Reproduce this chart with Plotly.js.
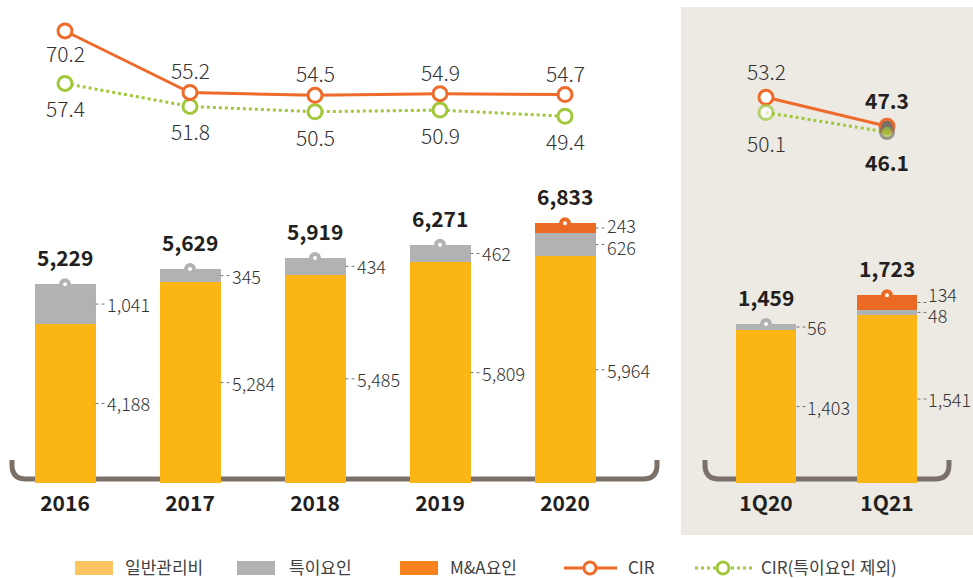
<!DOCTYPE html>
<html>
<head>
<meta charset="utf-8">
<script src="https://cdn.plot.ly/plotly-3.0.1.min.js"></script>
<style>html,body{margin:0;padding:0;background:#fff;}#chart{width:973px;height:578px;}</style>
</head>
<body>
<div id="chart"></div>
<script>
// ---- data ----
const yearCats = ['2016', '2017', '2018', '2019', '2020'];
const generalY = [4188, 5284, 5485, 5809, 5964];
const specialY = [1041, 345, 434, 462, 626];
const mnaY = [0, 0, 0, 0, 243];
const totalY = [5229, 5629, 5919, 6271, 6833];
const cirY = [70.2, 55.2, 54.5, 54.9, 54.7];
const cirExY = [57.4, 51.8, 50.5, 50.9, 49.4];

const quarterCats = ['1Q20', '1Q21'];
const generalQ = [1403, 1541];
const specialQ = [56, 48];
const mnaQ = [0, 134];
const totalQ = [1459, 1723];
const cirQ = [53.2, 47.3];
const cirExQ = [50.1, 46.1];

const legendNames = ['일반관리비', '특이요인', 'M&A요인', 'CIR', 'CIR(특이요인 제외)'];

// ---- styles ----
const W = 973, H = 578;
const px = x => x / W;
const py = y => 1 - y / H;
const FONT = '"Noto Sans CJK KR", "Noto Sans", sans-serif';
const C_YEL = '#FBB616', C_GRY = '#B1B2B4', C_ORG = '#EA6A24', C_LINE = '#EE6B2B', C_GRN = '#A0C83A';
const C_TXT = '#333333', C_DARK = '#231F20', C_BRK = '#7B7168';
const BOTTOM = 483;
const hwY = 0.244, hwQ = 0.252;

const fmt = v => v.toLocaleString('en-US');

const traces = [];
function bars(cats, vals, color, xa, ya, w) {
  return {type: 'bar', x: cats, y: vals, xaxis: xa, yaxis: ya, width: cats.map(() => w),
    marker: {color: color, line: {width: 0}}, hoverinfo: 'skip', showlegend: false};
}
traces.push(bars(yearCats, generalY, C_YEL, 'x', 'y', 2 * hwY));
traces.push(bars(yearCats, specialY, C_GRY, 'x', 'y', 2 * hwY));
traces.push(bars(yearCats, mnaY, C_ORG, 'x', 'y', 2 * hwY));
traces.push(bars(quarterCats, generalQ, C_YEL, 'x2', 'y3', 2 * hwQ));
traces.push(bars(quarterCats, specialQ, C_GRY, 'x2', 'y3', 2 * hwQ));
traces.push(bars(quarterCats, mnaQ, C_ORG, 'x2', 'y3', 2 * hwQ));

// bar top pins
function pins(cats, tots, mna, xa, ya) {
  return {type: 'scatter', mode: 'markers', x: cats, y: tots, xaxis: xa, yaxis: ya, cliponaxis: false,
    marker: {size: 8, color: '#ffffff', line: {width: 4, color: mna.map(m => m > 0 ? C_ORG : C_GRY)}},
    hoverinfo: 'skip', showlegend: false};
}
traces.push(pins(yearCats, totalY, mnaY, 'x', 'y'));
traces.push(pins(quarterCats, totalQ, mnaQ, 'x2', 'y3'));

// CIR lines
traces.push({type: 'scatter', mode: 'lines+markers', x: yearCats, y: cirExY, xaxis: 'x', yaxis: 'y2', cliponaxis: false,
  line: {color: C_GRN, width: 3, dash: 'dot'}, marker: {size: 14, color: '#fff', line: {width: 3, color: C_GRN}},
  hoverinfo: 'skip', showlegend: false});
traces.push({type: 'scatter', mode: 'lines+markers', x: yearCats, y: cirY, xaxis: 'x', yaxis: 'y2', cliponaxis: false,
  line: {color: C_LINE, width: 3}, marker: {size: 14, color: '#fff', line: {width: 3, color: C_LINE}},
  hoverinfo: 'skip', showlegend: false});
traces.push({type: 'scatter', mode: 'lines+markers', x: quarterCats, y: cirQ, xaxis: 'x2', yaxis: 'y4', cliponaxis: false,
  line: {color: C_LINE, width: 3}, marker: {size: 14, color: ['#fff', C_BRK], line: {width: 3, color: [C_LINE, C_LINE]}},
  hoverinfo: 'skip', showlegend: false});
traces.push({type: 'scatter', mode: 'lines+markers', x: quarterCats, y: cirExQ, xaxis: 'x2', yaxis: 'y4', cliponaxis: false,
  line: {color: C_GRN, width: 3, dash: 'dot'}, marker: {size: [14, 13], color: ['#fff', C_GRN], line: {width: 3, color: [C_GRN, C_BRK]}},
  hoverinfo: 'skip', showlegend: false});

// ---- annotations & shapes ----
const ann = [];
const shapes = [];

// beige panel
shapes.push({type: 'rect', xref: 'paper', yref: 'paper', x0: px(681), x1: px(973), y0: py(535), y1: py(7),
  fillcolor: '#EDEAE3', line: {width: 0}, layer: 'below'});

// brackets
function bracket(x0, x1) {
  const top = 460, base = 479, r = 14;
  const p = `M ${px(x0)} ${py(top)} L ${px(x0)} ${py(base - r)} Q ${px(x0)} ${py(base)} ${px(x0 + r)} ${py(base)} ` +
    `L ${px(x1 - r)} ${py(base)} Q ${px(x1)} ${py(base)} ${px(x1)} ${py(base - r)} L ${px(x1)} ${py(top)}`;
  shapes.push({type: 'path', xref: 'paper', yref: 'paper', path: p, line: {color: C_BRK, width: 5}, layer: 'below'});
}
bracket(12, 657);
bracket(705, 949);

// totals
function totalsAnn(cats, tots, xa, ya) {
  cats.forEach((c, i) => ann.push({x: i, y: tots[i], xref: xa, yref: ya, text: fmt(tots[i]), showarrow: false,
    yshift: 27, font: {family: FONT, size: 21, color: C_DARK, weight: 700}}));
}
totalsAnn(yearCats, totalY, 'x', 'y');
totalsAnn(quarterCats, totalQ, 'x2', 'y3');

// segment labels with dotted leaders
function segLabels(cats, series, xa, ya, hw, shifts) {
  cats.forEach((c, i) => {
    let base = 0;
    series.forEach((s, k) => {
      const v = s[i];
      if (v > 0) {
        const mid = base + v / 2;
        const sh = (shifts && shifts[k] && shifts[k][i]) || 0;
        ann.push({x: i + hw, y: mid, xref: xa, yref: ya, text: fmt(v), showarrow: false,
          xanchor: 'left', xshift: 9, yshift: sh, font: {family: FONT, size: 18, color: C_TXT, weight: 300}});
        shapes.push({type: 'line', xref: xa, yref: ya, xsizemode: 'pixel', xanchor: i + hw, x0: 0, x1: 11,
          y0: mid, y1: mid, line: {color: '#777', width: 1, dash: 'dot'}});
      }
      base += v;
    });
  });
}
segLabels(yearCats, [generalY, specialY, mnaY], 'x', 'y', hwY, [null, [0, 0, 0, 0, -3], [0, 0, 0, 0, 3]]);
segLabels(quarterCats, [generalQ, specialQ, mnaQ], 'x2', 'y3', hwQ, [null, [0, -3], [0, 9]]);

// CIR labels
function cirLabels(cats, vals, pos, xa, ya, bold, up, down) {
  cats.forEach((c, i) => ann.push({x: i, y: vals[i], xref: xa, yref: ya, text: vals[i].toFixed(1), showarrow: false,
    yshift: pos[i] === 'above' ? up : -down,
    font: {family: FONT, size: 21, color: bold[i] ? C_DARK : C_TXT, weight: bold[i] ? 700 : 300}}));
}
cirLabels(yearCats, cirY, ['below', 'above', 'above', 'above', 'above'], 'x', 'y2', [0, 0, 0, 0, 0], 22, 22);
cirLabels(yearCats, cirExY, ['below', 'below', 'below', 'below', 'below'], 'x', 'y2', [0, 0, 0, 0, 0], 22, 25);
cirLabels(quarterCats, cirQ, ['above', 'above'], 'x2', 'y4', [0, 1], 26, 26);
cirLabels(quarterCats, cirExQ, ['below', 'below'], 'x2', 'y4', [0, 1], 26, 30);

// custom legend
const LY = 568, LT = 566;
const legFont = {family: FONT, size: 17, color: '#404040'};
[[75, '#FEC561', 123], [237, C_GRY, 287], [400, '#F5821F', 448]].forEach((d, k) => {
  shapes.push({type: 'rect', xref: 'paper', yref: 'paper', x0: px(d[0]), x1: px(d[0] + 38), y0: py(LY + 7), y1: py(LY - 7),
    fillcolor: d[1], line: {width: 0}});
  ann.push({x: px(d[2]), y: py(LT), xref: 'paper', yref: 'paper', xanchor: 'left', yanchor: 'middle',
    text: legendNames[k], showarrow: false, font: legFont});
});
shapes.push({type: 'line', xref: 'paper', yref: 'paper', x0: px(564), x1: px(617), y0: py(LY), y1: py(LY), line: {color: C_LINE, width: 3}});
shapes.push({type: 'circle', xref: 'paper', yref: 'paper', x0: px(584), x1: px(596), y0: py(LY + 6), y1: py(LY - 6),
  fillcolor: '#fff', line: {color: C_LINE, width: 3}});
ann.push({x: px(626), y: py(LT), xref: 'paper', yref: 'paper', xanchor: 'left', yanchor: 'middle',
  text: legendNames[3], showarrow: false, font: legFont});
shapes.push({type: 'line', xref: 'paper', yref: 'paper', x0: px(695), x1: px(752), y0: py(LY), y1: py(LY), line: {color: C_GRN, width: 3, dash: 'dot'}});
shapes.push({type: 'circle', xref: 'paper', yref: 'paper', x0: px(717), x1: px(729), y0: py(LY + 6), y1: py(LY - 6),
  fillcolor: '#fff', line: {color: C_GRN, width: 3}});
ann.push({x: px(759), y: py(LT), xref: 'paper', yref: 'paper', xanchor: 'left', yanchor: 'middle',
  text: legendNames[4], showarrow: false, font: legFont});

const hidden = {showgrid: false, zeroline: false, showticklabels: false, showline: false, ticks: ''};
const yDom = [py(BOTTOM), 1];
const tickFont = {family: FONT, size: 21, color: C_DARK, weight: 700};
const layout = {
  width: W, height: H, margin: {l: 0, r: 0, t: 0, b: 0},
  paper_bgcolor: '#ffffff', plot_bgcolor: 'rgba(0,0,0,0)',
  barmode: 'stack', showlegend: false,
  xaxis: {domain: [px(2.5), px(627.5)], type: 'category', range: [-0.5, 4.5], anchor: 'y', showgrid: false, zeroline: false,
    showline: false, ticks: '', tickfont: tickFont, ticklabelstandoff: 6, fixedrange: true},
  xaxis2: {domain: [px(705.5), px(947.5)], type: 'category', range: [-0.5, 1.5], anchor: 'y3', showgrid: false, zeroline: false,
    showline: false, ticks: '', tickfont: tickFont, ticklabelstandoff: 6, fixedrange: true},
  yaxis: Object.assign({domain: yDom, range: [0, BOTTOM / 0.038], anchor: 'x'}, hidden),
  yaxis2: Object.assign({overlaying: 'y', range: [(318.8 - BOTTOM) / 4.1, 318.8 / 4.1], anchor: 'x'}, hidden),
  yaxis3: Object.assign({domain: yDom, range: [0, BOTTOM / 0.109], anchor: 'x2'}, hidden),
  yaxis4: Object.assign({overlaying: 'y3', range: [(358 - BOTTOM) / 4.9, 358 / 4.9], anchor: 'x2'}, hidden),
  annotations: ann, shapes: shapes,
  font: {family: FONT}
};
Plotly.newPlot('chart', traces, layout, {displayModeBar: false, staticPlot: true});
</script>
</body>
</html>
